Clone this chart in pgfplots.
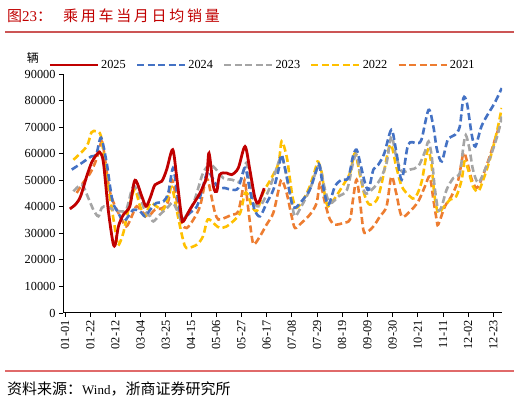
\documentclass[border=0pt]{standalone}
\usepackage{fontspec}
\setmainfont{Liberation Serif}
\newfontfamily\cjk{Noto Sans CJK SC}
\usepackage{pgfplots}
\pgfplotsset{compat=1.18}
\definecolor{c25}{HTML}{C00000}
\definecolor{c24}{HTML}{4472C4}
\definecolor{c23}{HTML}{A5A5A5}
\definecolor{c22}{HTML}{FFC000}
\definecolor{c21}{HTML}{ED7D31}
\definecolor{titlered}{HTML}{C00000}
\definecolor{ruletop}{HTML}{CC5555}
\definecolor{rulebot}{HTML}{E06A6A}
\begin{document}
\begin{tikzpicture}
\begin{axis}[
  scale only axis,
  width=439pt, height=239pt,
  xmin=-1.7, xmax=364.2, ymin=0, ymax=90000,
  axis lines*=left,
  axis line style={black, line width=1pt},
  xtick={0,21,...,357},
  xticklabels={01-01,01-22,02-12,03-04,03-25,04-15,05-06,05-27,06-17,07-08,07-29,08-19,09-09,09-30,10-21,11-11,12-02,12-23},
  ytick={0,10000,...,90000},
  tick align=outside, major tick length=4pt,
  tick style={black, line width=0.8pt},
  scaled y ticks=false,
  /pgf/number format/assume math mode=true,
  yticklabel style={/pgf/number format/1000 sep={}, font=\fontsize{12.3}{12}\selectfont},
  xticklabel style={rotate=90, anchor=east, font=\fontsize{12.3}{12}\selectfont},
  legend columns=5,
  reverse legend,
  legend style={at={(0.4544,1.0377)}, anchor=center, draw=none, fill=none,
    font=\fontsize{12.3}{12}\selectfont,
    /tikz/every even column/.append style={column sep=8pt}},
  legend image code/.code={\draw[#1] (0pt,0pt) -- (48pt,0pt);},
]
% 2021
\addplot[c21, line width=2.6pt, dash pattern=on 7pt off 3.5pt, smooth, tension=0.5] table {
9.7 45200
15 49000
21 52700
26 57700
30.6 64600
33 59000
37 46400
41.7 40200
46 36400
51 32600
55.6 36400
59.7 40200
65 37700
69.4 36400
75 38900
80.6 39400
86 42000
89 50200
93 42700
97 33900
101.4 32000
107 35200
112.5 40200
116.7 49000
119 50200
122 43900
125 37700
127.8 35200
133 35800
139 37000
144.4 38300
148.6 47700
150 49600
152.8 38900
155.6 28900
157.5 25800
162.5 28900
168 33300
173.6 37700
178 46400
180.5 50200
184.7 45200
188.9 36400
191.7 32000
197 33900
204 37000
209.7 41400
212.5 49000
216.7 41400
220.8 35200
225 33300
232 33900
237.5 35200
240 42700
243 50200
246 41400
248.6 31400
251 30200
257 32600
262.5 36400
268 40200
272 51400
276 45200
280.6 36400
287.5 38300
294.4 42000
300 47700
304 51400
307 42700
309.7 35200
311 33300
316.7 40200
322 43900
327.8 50200
332 60200
334.7 57700
339 50200
343 47100
347 50200
354 59000
361 69000
364 70500
};
\addlegendentry{2021}
% 2022
\addplot[c22, line width=2.6pt, dash pattern=on 7pt off 3.5pt, smooth, tension=0.5] table {
7 57700
18 62700
22 68000
26 68400
30 66500
34.7 51400
40 36400
43.6 26400
45 25800
48.6 30200
52.8 38900
58 46500
62.5 40200
66.7 36400
71 41400
76 40200
82 38900
86 44000
89 47500
93 38900
97 30200
100 25100
103 24500
110 25800
115 28900
119 35200
125 33300
129 32000
134.7 32600
140 34500
146 37700
150 45200
153 44000
155.6 40200
160 38500
165 45200
172 50800
178 56500
180.5 64600
184.7 59000
187.5 50200
190 42700
193 39600
198.6 42700
204 47700
209.7 55800
211 57000
214 52700
216.7 43900
219.4 40200
225 43300
232 48300
237.5 52700
241.7 60200
246 51400
250 43900
254 40800
260 42700
264 49000
271 63400
276 55200
280.6 47700
287.5 43900
291.7 43300
297 49000
301 59000
303 61500
305.6 55200
308 43900
311 37700
315 39600
321 42700
326 43900
330.6 50200
333 57100
336 54000
340 47700
344.4 45800
348.6 50200
354 57700
359.7 67800
364 77200
};
\addlegendentry{2022}
% 2023
\addplot[c23, line width=2.6pt, dash pattern=on 7pt off 3.5pt, smooth, tension=0.5] table {
7 45800
14 48300
19.4 43300
23.6 38900
27.8 36400
30.6 39600
34.7 40200
40 38900
46 38300
51 38900
55.6 46400
58 47700
62.5 43900
66.7 38300
71 36400
73.6 34500
79 37000
86 40000
90 41500
95 37000
98 35000
107 41400
115 52700
121 55800
126 54000
132 50800
139 50200
146 49600
151 56500
154 49000
158 41400
162.5 40200
168 44500
171 47700
176 54000
180.5 59000
184.7 51400
189 41400
191.7 36400
197 40200
204 46400
209.7 54000
212.5 55200
216.7 46400
221 41400
228 43900
235 46400
240 56500
243 59600
246 52700
250 45200
255.6 46400
262.5 50200
268 56500
272 66500
276 59000
280.6 53300
287.5 54000
294.4 55200
300 60800
303 64600
305.6 59000
308 47700
311 38900
314 40200
318 46400
323.6 50800
329 52700
332 62700
334 67000
337 62000
340 54000
344.4 49000
350 54000
355.6 60200
361 67800
364 74000
};
\addlegendentry{2023}
% 2024
\addplot[c24, line width=2.6pt, dash pattern=on 7pt off 3.5pt, smooth, tension=0.5] table {
5.6 54000
14 56500
22 59000
26 59600
30 66000
34.7 56500
37.5 47700
40 41400
44.4 37700
48.6 34500
52.8 36400
57 38900
62.5 38300
66.7 36400
71 38900
76 41400
82 42000
86 45200
90 54600
93 46400
96 37700
98.6 35200
104 37700
110 40200
115 47700
119 53300
123.6 50200
127.8 47100
133 47100
139 46400
144.4 47100
150 54600
154 46400
158 38900
162.5 36400
168 41400
173.6 46400
178 54000
180.5 59600
184.7 51400
189 41400
191.7 39600
197 42000
204 46400
209.7 54000
212 55800
215 47700
219.4 40800
225 47700
230.6 50200
236 50800
240 59000
243 61500
246 56500
250 49000
253 46400
257 54000
261 55800
266 60000
272 69000
276 61000
280.6 50200
286 63400
293 64000
297 65200
303 76500
307 70200
310 61500
314 57100
319 65200
325 67100
329 70200
332 80900
335 79000
339 67100
342 62700
347 70200
353 75300
358 79000
364 84700
};
\addlegendentry{2024}
% 2025
\addplot[c25, line width=2.8pt, smooth, tension=0.5] table {
4 39200
9 41000
13 44000
18 51400
22 56500
25 58800
29 60500
32 56600
36 38900
40 26400
42 26000
44.5 32600
48.6 37000
54 40200
58.3 50000
64 43900
67.5 40200
71 43400
75 48300
80.6 49600
84.7 54000
89.7 61500
93 51400
97 36400
98.6 34500
104 38900
112.5 45200
118 51400
120 60200
123.6 47700
126.4 45800
129 52100
134.7 52700
139 52100
144.4 54600
150 62700
154 54000
158 43900
161 41400
166 47000
};
\addlegendentry{2025}
\end{axis}
\begin{scope}[x=1pt,y=1pt,shift={(-63pt,-90pt)}]
\node[anchor=west, inner sep=0pt, text=titlered, font=\cjk\fontsize{15}{15}\selectfont] at (7,387)
  {图{\rmfamily 23}：\hspace{11pt}乘\hspace{2.7pt}用\hspace{2.7pt}车\hspace{2.7pt}当\hspace{2.7pt}月\hspace{2.7pt}日\hspace{2.7pt}均\hspace{2.7pt}销\hspace{2.7pt}量};
\fill[ruletop] (5,370.4) rectangle (514,371.6);
\fill[rulebot] (5,31.3) rectangle (514,32.7);
\node[anchor=west, inner sep=0pt, font=\fontsize{13}{13}\selectfont] at (7,14)
  {{\cjk\fontsize{15}{15}\selectfont 资料来源：}Wind{\cjk\fontsize{15}{15}\selectfont ，浙商证券研究所}};
\node[font=\cjk\fontsize{12}{12}\selectfont] at (33,345) {辆};
\pgfresetboundingbox
\path[use as bounding box] (0,0) rectangle (520,403);
\end{scope}
\end{tikzpicture}
\end{document}
